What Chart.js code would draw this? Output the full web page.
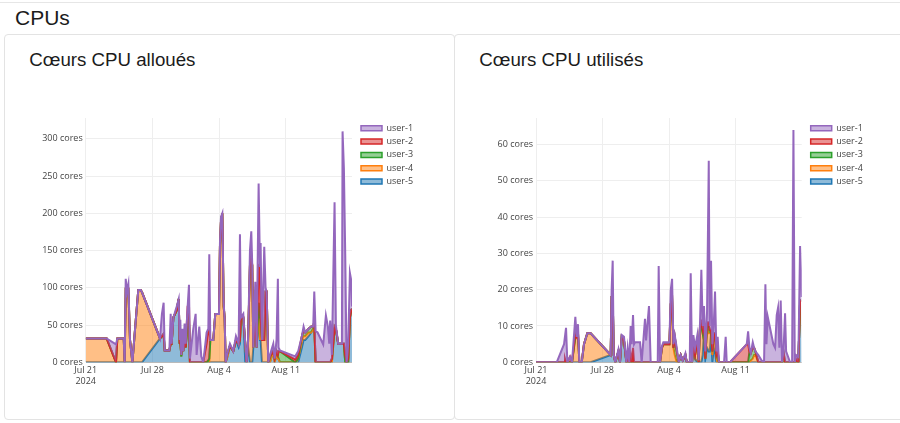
<!DOCTYPE html>
<html lang="fr">
<head>
<meta charset="utf-8">
<title>CPUs</title>
<script src="https://cdn.jsdelivr.net/npm/chart.js@4.4.1/dist/chart.umd.min.js"></script>
<style>
  html, body { margin: 0; padding: 0; background: #fff; }
  body { width: 900px; height: 423px; position: relative; overflow: hidden; font-family: "Liberation Sans", Arial, sans-serif; color: #1b1b1b; }
  .topline { position: absolute; left: 0; top: 0; width: 900px; height: 2px; border-bottom: 1px solid #e6e6e6; }
  h1 { position: absolute; left: 15px; top: 6.7px; margin: 0; font-size: 21px; line-height: 1; font-weight: normal; }
  .card { position: absolute; top: 34px; height: 386px; border: 1px solid #e3e3e3; border-radius: 4px; box-sizing: border-box; }
  .card h2 { position: absolute; left: 24.3px; top: 15.6px; margin: 0; font-size: 18.7px; line-height: 1; font-weight: normal; white-space: nowrap; }
  canvas { position: absolute; top: 100px; }
</style>
</head>
<body>
<div class="topline"></div>
<h1>CPUs</h1>
<div class="card" style="left:4px; width:451px;"><h2>Cœurs CPU alloués</h2></div>
<div class="card" style="left:454px; width:460px;"><h2>Cœurs CPU utilisés</h2></div>
<canvas id="alloues" width="420" height="295" style="left:20px"></canvas>
<canvas id="utilises" width="420" height="295" style="left:470px"></canvas>
<script>
// jours depuis le 21 juillet 2024
const xTickDays = [0, 7, 14, 21];
const xTickLabels = [["Jul 21", "2024"], "Jul 28", "Aug 4", "Aug 11"];

const users = ["user-1", "user-2", "user-3", "user-4", "user-5"];
const userColors = ["#9467bd", "#d62728", "#2ca02c", "#ff7f0e", "#1f77b4"];
const userFills = ["rgba(148,103,189,0.5)", "rgba(214,39,40,0.5)", "rgba(44,160,44,0.5)", "rgba(255,127,14,0.5)", "rgba(31,119,180,0.5)"];

// --- coeurs alloués ---
const allocDays = [
  0, 2.2, 3.18, 3.32, 3.99, 4.09, 4.2, 4.34, 4.48, 4.65,
  4.9, 5.31, 5.52, 5.77, 5.91, 7.8, 8.0, 8.18, 8.29, 8.78,
  8.92, 9.02, 9.2, 9.55, 9.76, 9.86, 9.93, 10.03, 10.17, 10.24,
  10.38, 10.49, 10.7, 10.84, 10.94, 11.29, 11.54, 11.64, 11.92, 12.13,
  12.34, 12.69, 12.87, 12.97, 13.08, 13.39, 13.6, 13.99, 14.09, 14.2,
  14.34, 14.48, 14.58, 14.69, 14.83, 15.14, 15.49, 15.77, 16.05, 16.19,
  16.29, 16.54, 16.75, 16.89, 17.03, 17.24, 17.38, 17.48, 17.59, 17.8,
  17.94, 18.15, 18.29, 18.36, 18.5, 18.74, 18.88, 18.99, 19.16, 19.34,
  19.69, 19.83, 20.03, 20.17, 20.24, 20.38, 21.99, 22.3, 22.69, 22.87,
  23.04, 23.39, 23.67, 23.88, 23.99, 24.13, 24.34, 24.93, 25.21, 25.42,
  25.56, 25.66, 25.84, 26.12, 26.26, 26.5, 26.89, 26.96, 27.1, 27.24,
  27.38, 27.55, 27.73, 27.87, 27.95
];
const allocUser1 = [
  0, 0, 24, 0, 0, 0, 15, 0, 8, 0,
  0, 0, 0, 0, 0, 0, 30, 42, 0, 0,
  40, 0, 0, 5, 0, 5, 27, 0, 15, 0,
  12, 5, 0, 24, 5, 45, 65, 10, 48, 8,
  0, 15, 2, 100, 0, 0, 0, 0, 5, 5,
  0, 5, 0, 0, 0, 3, 0, 5, 0, 142,
  0, 5, 0, 0, 3, 20, 31, 0, 0, 48,
  0, 110, 0, 100, 0, 125, 5, 0, 0, 2,
  10, 0, 15, 102, 5, 1, 4, 5, 0, 5,
  0, 0, 0, 0, 40, 42, 40, 24, 63, 48,
  25, 56, 5, 167, 5, 0, 0, 285, 235, 135,
  0, 20, 60, 40, 3
];
const allocUser2 = [
  0, 0, 0, 0, 0, 0, 0, 0, 0, 0,
  0, 0, 0, 0, 0, 0, 0, 0, 0, 0,
  0, 0, 0, 0, 0, 0, 0, 2, 0, 0,
  0, 0, 20, 20, 0, 0, 0, 0, 0, 0,
  0, 25, 40, 40, 0, 0, 0, 0, 0, 0,
  0, 0, 0, 0, 0, 0, 0, 0, 0, 0,
  0, 0, 0, 0, 0, 0, 15, 0, 0, 0,
  0, 50, 68, 0, 0, 0, 0, 0, 0, 0,
  0, 0, 0, 0, 0, 0, 4, 5, 0, 0,
  0, 0, 0, 0, 0, 0, 0, 0, 0, 0,
  0, 0, 0, 0, 0, 0, 0, 0, 0, 10,
  0, 5, 0, 0, 0
];
const allocUser3 = [
  0, 0, 0, 0, 0, 0, 0, 0, 0, 0,
  0, 0, 0, 0, 0, 0, 0, 0, 0, 0,
  0, 0, 0, 0, 0, 0, 0, 0, 0, 0,
  0, 0, 5, 5, 0, 0, 0, 0, 0, 0,
  0, 0, 3, 5, 0, 0, 0, 0, 0, 0,
  0, 0, 0, 0, 5, 0, 0, 0, 0, 0,
  0, 0, 0, 0, 0, 0, 0, 0, 0, 0,
  0, 0, 30, 0, 0, 0, 0, 0, 0, 8,
  0, 5, 5, 5, 10, 15, 0, 0, 5, 8,
  5, 5, 8, 3, 10, 0, 0, 0, 0, 0,
  0, 0, 5, 3, 0, 0, 0, 0, 0, 0,
  0, 0, 0, 0, 0
];
const allocUser4 = [
  32, 32, 0, 32, 32, 0, 97, 95, 97, 30,
  0, 65, 97, 97, 94, 0, 0, 0, 0, 0,
  0, 0, 0, 0, 0, 0, 0, 0, 0, 0,
  0, 0, 0, 0, 0, 0, 0, 0, 0, 0,
  0, 0, 0, 0, 30, 30, 65, 65, 155, 190,
  200, 75, 60, 0, 0, 0, 0, 0, 5, 5,
  0, 0, 25, 0, 0, 130, 130, 130, 0, 0,
  0, 20, 0, 30, 30, 30, 95, 95, 0, 0,
  0, 0, 0, 0, 0, 0, 0, 5, 10, 5,
  5, 5, 0, 0, 0, 0, 0, 0, 0, 0,
  0, 0, 0, 0, 0, 0, 0, 0, 0, 0,
  0, 0, 0, 0, 0
];
const allocUser5 = [
  0, 0, 0, 0, 0, 0, 0, 0, 0, 0,
  0, 0, 0, 0, 0, 32, 35, 38, 16, 16,
  25, 25, 60, 70, 85, 25, 30, 8, 30, 15,
  40, 20, 50, 55, 0, 0, 0, 0, 0, 0,
  0, 0, 0, 0, 0, 0, 0, 0, 0, 0,
  0, 0, 0, 0, 5, 22, 15, 30, 20, 25,
  60, 60, 0, 0, 22, 0, 0, 0, 20, 60,
  20, 60, 30, 30, 0, 0, 0, 0, 0, 0,
  15, 0, 10, 5, 5, 0, 0, 0, 20, 30,
  30, 35, 40, 45, 45, 0, 0, 0, 0, 0,
  0, 0, 0, 45, 45, 25, 25, 25, 25, 0,
  0, 0, 60, 70, 72
];
const allocYTicks = [0, 50, 100, 150, 200, 250, 300];

// --- coeurs utilisés ---
const usedDays = [
  0, 2.18, 2.95, 3.05, 3.16, 3.3, 3.58, 3.79, 4.14, 4.28,
  4.42, 4.56, 4.81, 5.05, 5.4, 5.75, 7.86, 7.96, 8.07, 8.18,
  8.35, 8.67, 8.84, 9.02, 9.26, 9.51, 9.65, 9.82, 9.96, 10.07,
  10.21, 10.32, 10.42, 10.95, 11.12, 11.47, 11.58, 11.89, 12.07, 12.81,
  12.91, 13.05, 13.26, 13.4, 14.04, 14.18, 14.32, 14.46, 14.6, 14.81,
  15.02, 15.23, 15.44, 15.72, 15.86, 16.18, 16.28, 16.42, 16.56, 16.74,
  16.98, 17.12, 17.26, 17.4, 17.54, 17.68, 17.82, 18.0, 18.18, 18.28,
  18.42, 18.56, 18.7, 18.84, 18.98, 19.12, 19.26, 19.79, 19.96, 20.07,
  20.42, 22.18, 22.32, 22.46, 22.6, 22.81, 22.95, 23.09, 23.4, 23.75,
  24.0, 24.14, 24.25, 24.39, 24.98, 25.16, 25.33, 25.47, 25.61, 25.75,
  25.89, 26.04, 26.21, 26.32, 26.74, 26.95, 27.09, 27.23, 27.37, 27.61,
  27.79, 27.89, 27.96
];
const usedUser1 = [
  0, 0, 5, 4, 9.5, 0, 0, 0, 4.5, 0,
  2.5, 0, 0, 0, 0, 0, 0, 2, 10, 0,
  0, 0.5, 0, 0.5, 1, 0, 3, 0, 8, 5,
  9, 5, 5.5, 5.5, 0, 12, 6, 15.5, 0, 0,
  26.5, 0, 0.5, 0.5, 0.5, 4, 5, 1, 0.5, 1,
  0, 0, 0, 0.5, 0, 0, 24.5, 0, 2.5, 2,
  1.5, 0.5, 1, 14.5, 1, 3.5, 2, 3, 44.5, 1,
  19, 2, 2, 11.5, 1, 4, 0, 0, 7, 0,
  0, 0, 3.5, 1, 0, 1.5, 0, 0, 2, 0.5,
  0, 21.5, 5, 12.5, 5, 4, 13, 15, 4, 17,
  0, 0, 13.5, 3, 0, 0, 64, 0, 1, 1.5,
  15, 8, 1
];
const usedUser2 = [
  0, 0, 0, 1, 0, 0, 1.5, 0, 1, 0,
  0, 0, 0, 0, 0, 0, 0, 0, 0, 0,
  0, 0, 0, 0, 0, 0, 1, 0, 2, 0,
  4, 0, 0, 0, 0, 0, 0, 0, 0, 0,
  0, 0, 0, 0, 0, 0, 0, 0, 0, 0,
  0, 0, 0, 0, 0, 0, 0, 0, 0, 0,
  0, 0, 0, 1, 1, 1, 0, 1, 1, 0,
  1, 0, 0, 0, 0, 0, 0, 0, 0, 0,
  0, 5, 5, 0, 0, 0, 0, 0, 0, 0,
  0, 0, 0, 0, 0, 0, 0, 0, 0, 0,
  0, 0, 0, 0, 0, 0, 0, 0, 1, 0,
  0, 0, 0
];
const usedUser3 = [
  0, 0, 0, 0, 0, 0, 0, 0, 0, 0,
  0, 0, 0, 0, 0, 0, 0, 0, 0, 0,
  0, 0, 0, 0, 0, 0, 0, 0, 0, 0,
  0, 0, 0, 0, 0, 0, 0, 0, 0, 0,
  0, 0, 0, 0, 0, 0, 0, 0, 5, 3,
  0, 0, 0, 0, 0, 0, 0, 0, 0, 0,
  0, 0, 0, 0, 0, 0, 0, 0, 2, 1,
  0, 1, 0, 0, 1, 3, 0, 0, 0, 0,
  0, 0, 0, 3, 2, 3, 2, 1, 0, 0,
  0, 0, 0, 0, 0, 0, 0, 0, 0, 0,
  0, 3, 0, 0, 0, 0, 0, 0, 0, 0,
  0, 0, 0
];
const usedUser4 = [
  0, 0, 0, 0, 0, 0, 0, 0, 7, 7,
  8, 0, 0, 5, 8, 8, 0, 0, 0, 0,
  0, 0, 0, 0, 0, 0, 0, 0, 0, 0,
  0, 0, 0, 0, 0, 0, 0, 0, 0, 0,
  0, 0, 4, 5, 5, 16, 18, 4, 2, 0,
  0, 0, 0, 0, 0, 0, 0, 0, 0, 1,
  6, 0, 10, 10, 6, 2, 0, 6, 5, 5,
  0, 2, 4, 5, 1, 0, 0, 0, 0, 0,
  0, 0, 0, 0, 0.5, 1, 2, 2, 0, 0,
  0, 0, 0, 0, 0, 0, 0, 0, 0, 0,
  0, 0, 0, 0, 0, 0, 0, 0, 0, 0,
  0, 0, 0
];
const usedUser5 = [
  0, 0, 0, 0, 0, 0, 0, 0, 0, 0,
  0, 0, 0, 0, 0, 0, 2, 18, 18, 2,
  0, 3, 0, 7, 6, 0, 0, 0, 0, 0,
  0, 0, 0, 0, 0, 0, 0, 0, 0, 0,
  0, 0, 0, 0, 0, 0, 0, 0, 0, 0,
  0, 2, 0.5, 2, 0, 0, 0, 0, 5, 1,
  0, 0, 0, 0, 2, 9, 1, 4, 3, 3,
  8, 0, 4, 3, 0, 0, 0, 0, 0, 0,
  0, 0, 0, 0, 0, 0, 0, 0, 0, 0,
  0, 0, 0, 0, 0, 0, 0, 0, 0, 0,
  0, 0, 0, 0, 0, 0, 0, 0, 0, 0,
  17, 17, 17
];
const usedYTicks = [0, 10, 20, 30, 40, 50, 60];

const tickFont = { family: "Open Sans", size: 9 };
const legendPad = 4.3;

// place la légende comme plotly : juste à droite de la zone de tracé
const legendBeside = {
  id: "legendBeside",
  afterLayout(chart) {
    const lg = chart.legend;
    const dx = chart.chartArea.right + 9 - legendPad - lg.left;
    lg.left += dx;
    lg.right += dx;
    lg.top = chart.chartArea.top + 1.5;
  }
};

function drawStack(canvasId, days, values, yTicks, yMax, yAxisWidth, plotRight) {
  // empilement : user-5 en bas, user-1 en haut
  const running = days.map(() => 0);
  const tops = [];
  for (let u = users.length - 1; u >= 0; u--) {
    tops[u] = values[u].map((v, i) => (running[i] += v));
  }

  const datasets = users.map((name, u) => ({
    label: name,
    data: days.map((d, i) => ({ x: d, y: tops[u][i] })),
    borderColor: userColors[u],
    backgroundColor: userFills[u],
    borderWidth: 2,
    pointRadius: 0,
    tension: 0,
    fill: u === users.length - 1 ? "origin" : "+1"
  }));

  new Chart(document.getElementById(canvasId), {
    type: "line",
    data: { datasets },
    plugins: [legendBeside],
    options: {
      responsive: false,
      animation: false,
      layout: { padding: { top: 18, right: 420 - plotRight - 60, left: 0, bottom: 0 } },
      plugins: {
        tooltip: { enabled: false },
        legend: {
          position: "right",
          align: "start",
          maxWidth: 60,
          labels: {
            boxWidth: 21,
            boxHeight: 5,
            padding: legendPad,
            color: "#444",
            font: tickFont,
            generateLabels: chart =>
              Chart.defaults.plugins.legend.labels.generateLabels(chart).map(l => ({ ...l, lineWidth: 1.5 }))
          }
        }
      },
      scales: {
        x: {
          type: "linear",
          min: 0,
          max: days[days.length - 1],
          afterBuildTicks: s => { s.ticks = xTickDays.map(v => ({ value: v })); },
          afterFit: s => { s.height = 32.7; },
          ticks: {
            callback: v => xTickLabels[xTickDays.indexOf(v)],
            color: "#444",
            font: tickFont,
            maxRotation: 0,
            autoSkip: false,
            padding: 3
          },
          grid: { color: "#eee", drawTicks: false },
          border: { display: false }
        },
        y: {
          min: 0,
          max: yMax,
          afterBuildTicks: s => { s.ticks = yTicks.map(v => ({ value: v })); },
          afterFit: s => { s.width = yAxisWidth; },
          ticks: {
            callback: v => v + " cores",
            color: "#444",
            font: tickFont,
            autoSkip: false,
            padding: 3
          },
          grid: {
            color: c => (c.tick && c.tick.value === 0 ? "#bbb" : "#eee"),
            drawTicks: false
          },
          border: { display: false }
        }
      }
    }
  });
}

drawStack("alloues", allocDays,
  [allocUser1, allocUser2, allocUser3, allocUser4, allocUser5],
  allocYTicks, 328, 65.7, 332);

drawStack("utilises", usedDays,
  [usedUser1, usedUser2, usedUser3, usedUser4, usedUser5],
  usedYTicks, 67.3, 66, 331.7);
</script>
</body>
</html>
